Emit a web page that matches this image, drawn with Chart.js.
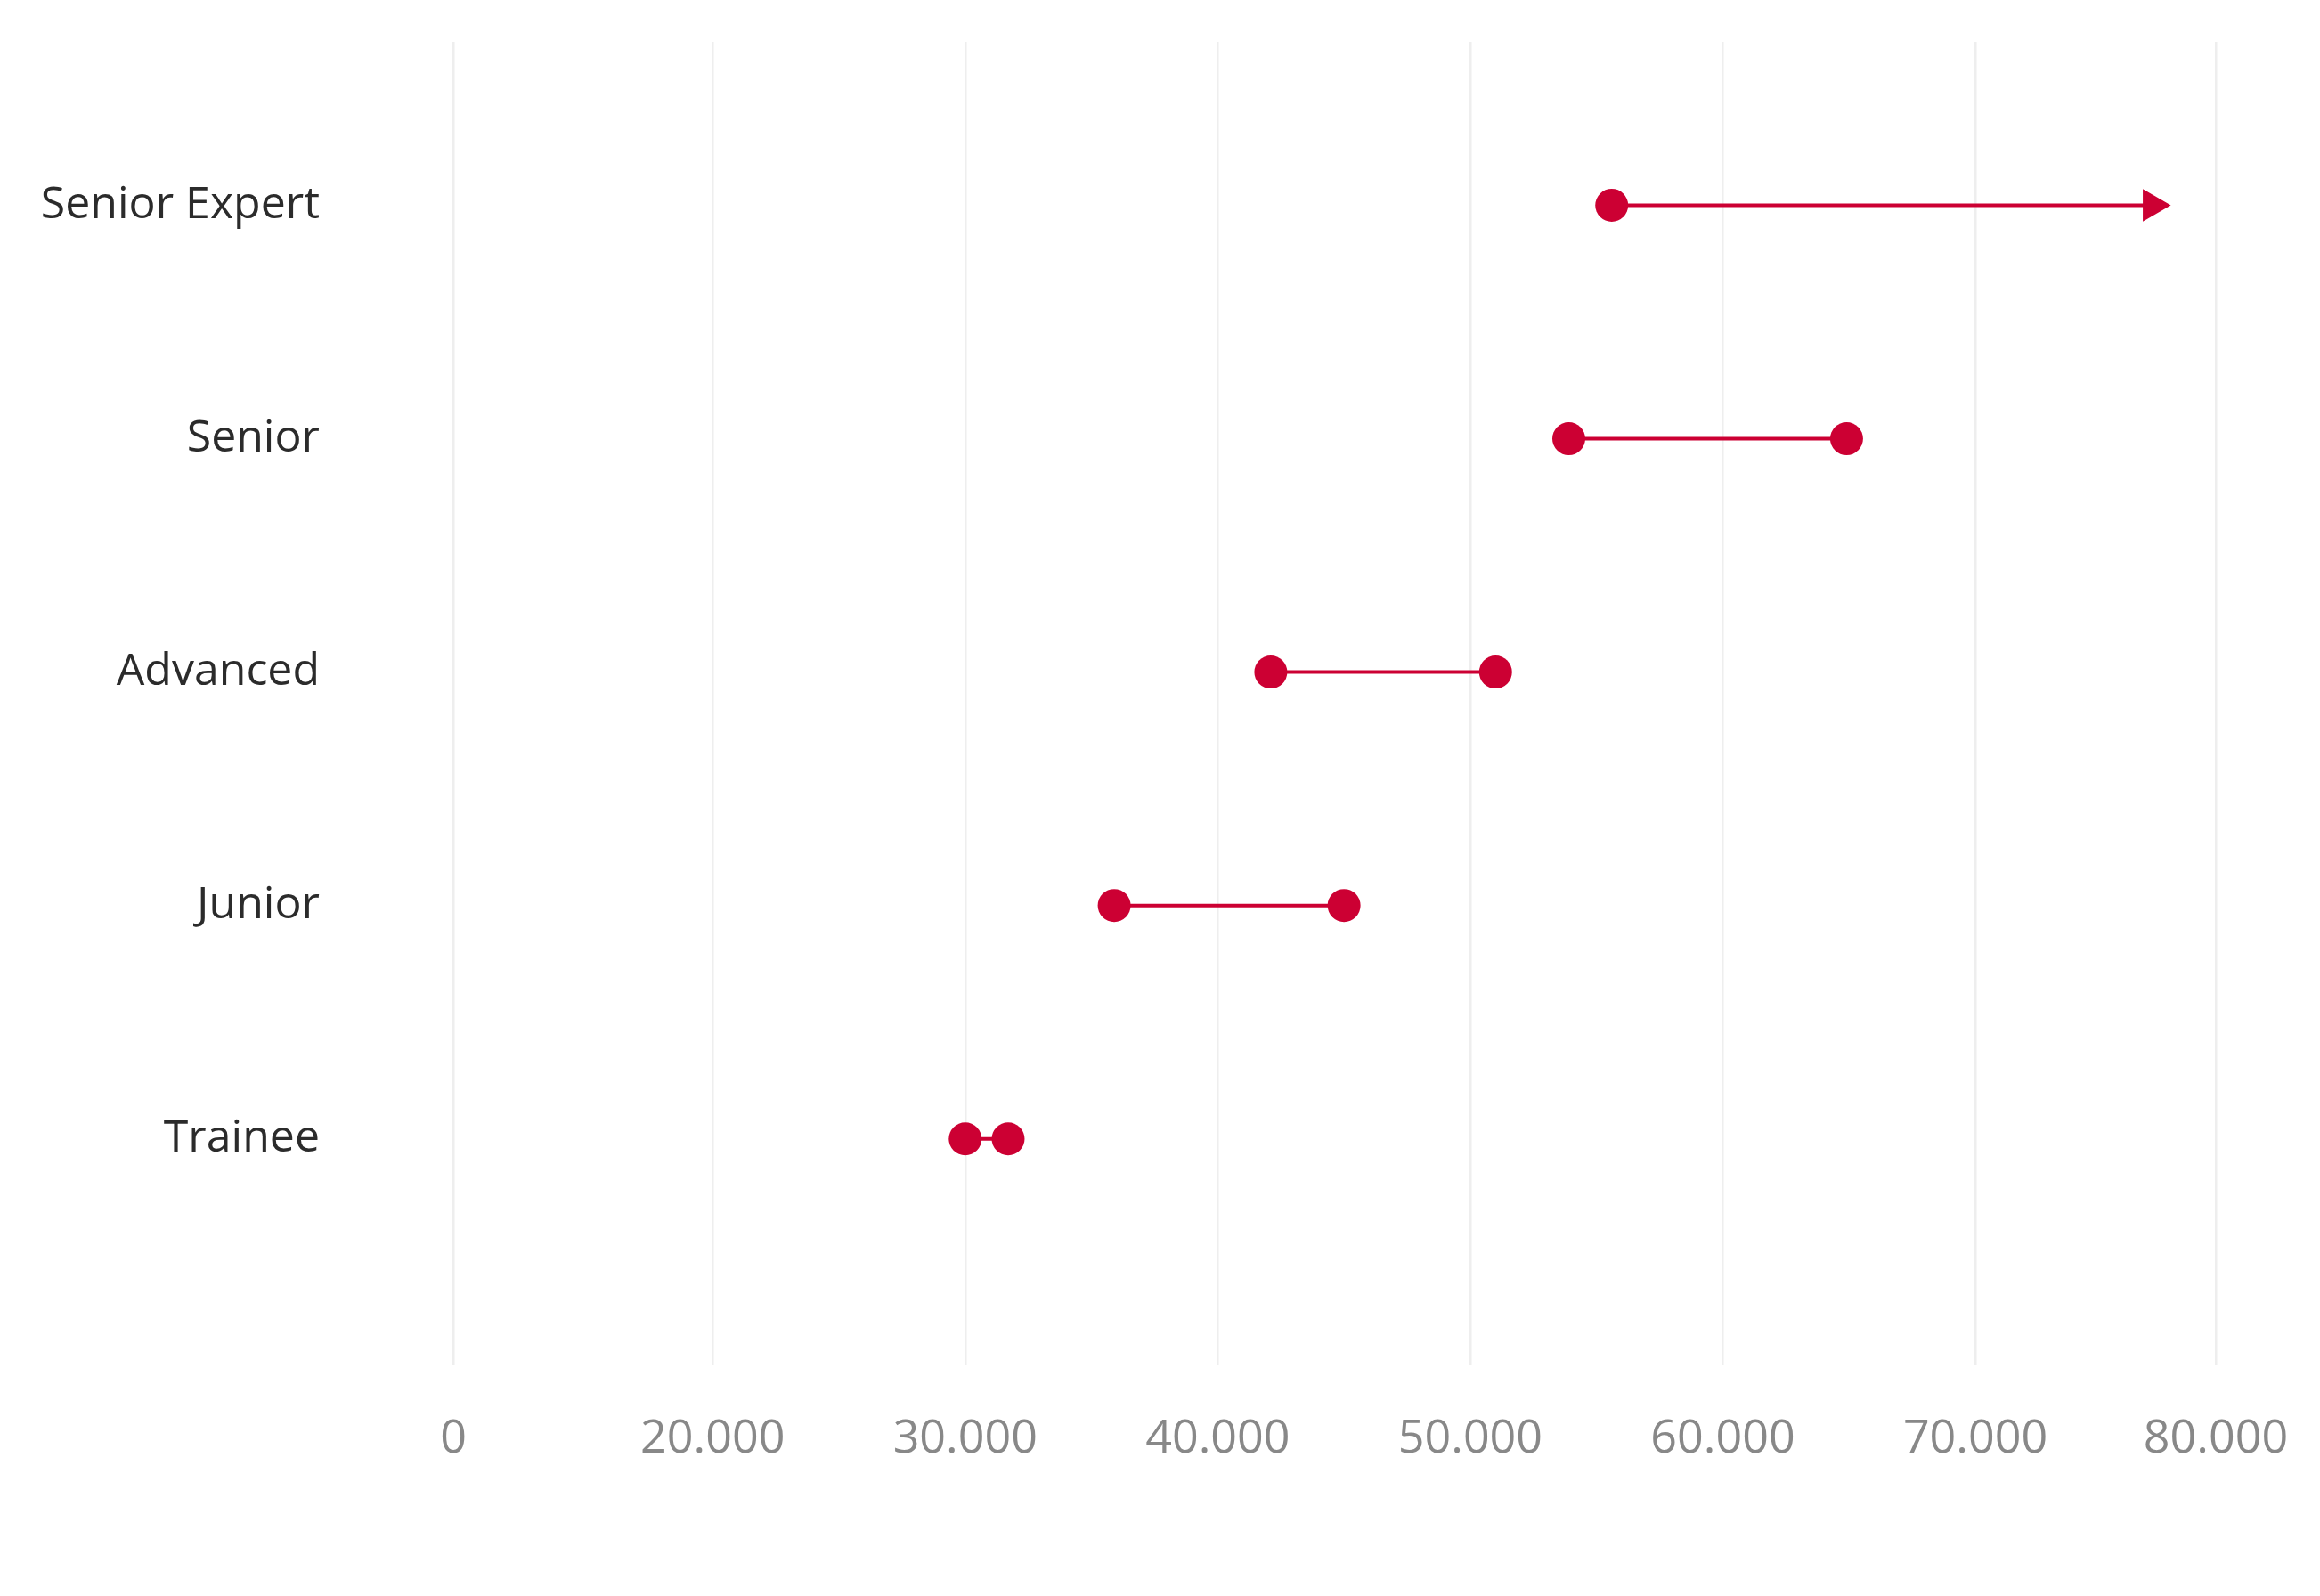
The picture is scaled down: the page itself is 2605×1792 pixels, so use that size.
<!DOCTYPE html>
<html>
<head>
<meta charset="utf-8">
<script src="https://cdn.jsdelivr.net/npm/chart.js@4.4.1/dist/chart.umd.min.js"></script>
<style>
  html, body { margin: 0; padding: 0; background: #ffffff; }
  #wrap { width: 2605px; height: 1792px; position: relative; }
</style>
</head>
<body>
<div id="wrap"><canvas id="salaryChart"></canvas></div>
<script>
// salary bands per level (top row first)
const categories = ['Senior Expert', 'Senior', 'Advanced', 'Junior', 'Trainee'];
const minSalary = [55600, 53900, 42100, 35900, 30000];
const maxSalary = [77000, 64900, 51000, 45000, 31700];
const openEnded = [true, false, false, false, false]; // upper end shown as arrow

// x axis: the outer ticks sit on the axis bounds
const tickValues = [9730, 20000, 30000, 40000, 50000, 60000, 70000, 79520];
const tickLabels = ['0', '20.000', '30.000', '40.000', '50.000', '60.000', '70.000', '80.000'];

const red = '#cc0033';

const datasets = categories.map((name, i) => ({
    label: name,
    data: [{ x: minSalary[i], y: i }, { x: maxSalary[i], y: i }],
    showLine: true,
    borderColor: red,
    borderWidth: 4,
    backgroundColor: red,
    pointBackgroundColor: red,
    pointBorderWidth: 0,
    pointStyle: openEnded[i] ? ['circle', 'triangle'] : 'circle',
    pointRotation: openEnded[i] ? [0, 90] : 0,
    pointRadius: openEnded[i] ? [18.5, 21] : 18.5
}));

const ctx = document.getElementById('salaryChart').getContext('2d');
const salaryChart = new Chart(ctx, {
    type: 'scatter',
    data: { datasets: datasets },
    options: {
        responsive: true,
        maintainAspectRatio: false,
        animation: false,
        events: [],
        layout: {
            padding: { left: 0, right: 117, top: 47, bottom: 0 }
        },
        plugins: {
            legend: { display: false },
            tooltip: { enabled: false }
        },
        scales: {
            x: {
                type: 'linear',
                min: tickValues[0],
                max: tickValues[tickValues.length - 1],
                afterBuildTicks(scale) {
                    scale.ticks = tickValues.map(v => ({ value: v }));
                },
                afterFit(scale) {
                    scale.height = 1792 - 1533;
                    scale.paddingLeft = 0;
                    scale.paddingRight = 0;
                },
                border: { display: false },
                grid: {
                    color: '#eeeeee',
                    lineWidth: 2.5,
                    drawTicks: false
                },
                ticks: {
                    padding: 52,
                    color: '#888888',
                    font: { family: 'Open Sans', size: 52 },
                    maxRotation: 0,
                    autoSkip: false,
                    callback: (v) => tickLabels[tickValues.indexOf(v)]
                }
            },
            y: {
                type: 'linear',
                reverse: true,
                min: -0.7,
                max: 4.97,
                afterBuildTicks(scale) {
                    scale.ticks = categories.map((c, i) => ({ value: i }));
                },
                afterFit(scale) {
                    scale.width = 509;
                    scale.paddingTop = 0;
                    scale.paddingBottom = 0;
                },
                border: { display: false },
                grid: { display: false, drawTicks: false },
                ticks: {
                    padding: 150,
                    color: '#2b2b2b',
                    font: { family: 'Open Sans', size: 50 },
                    autoSkip: false,
                    callback: (v) => categories[v]
                }
            }
        }
    }
});
</script>
</body>
</html>
